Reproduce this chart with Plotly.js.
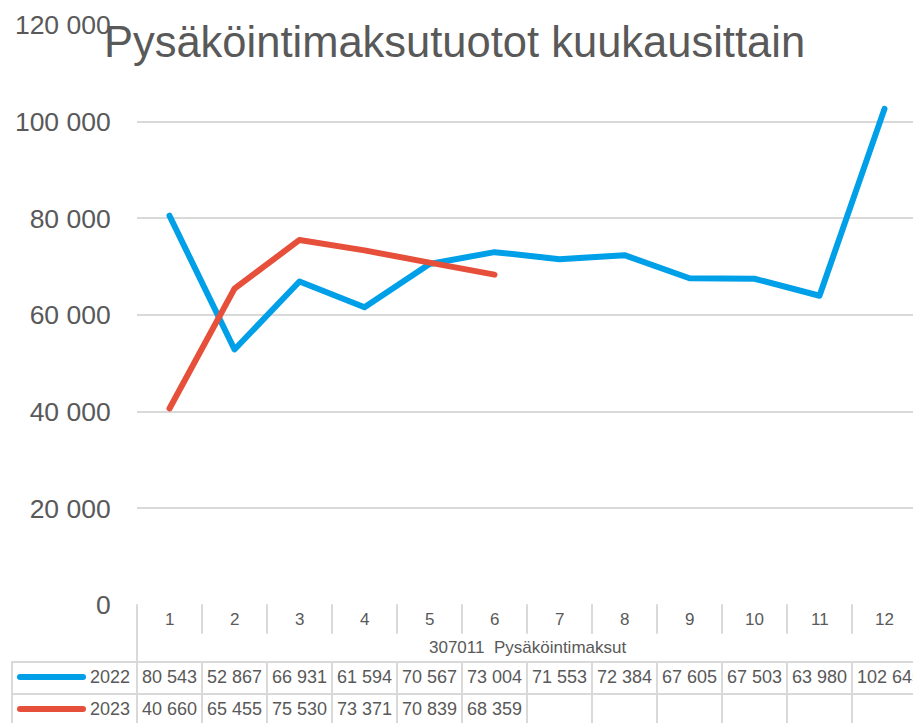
<!DOCTYPE html>
<html>
<head>
<meta charset="utf-8">
<script src="https://cdn.plot.ly/plotly-3.0.1.min.js"></script>
<style>
html,body{margin:0;padding:0;overflow:hidden;background:#fff;width:913px;height:723px;}
#chart{width:917px;height:723px;}
.scatterlayer .js-line{stroke-linecap:round;stroke-linejoin:round;}
.shapelayer path{stroke-linecap:round;}
</style>
</head>
<body>
<div id="chart"></div>
<script>
// ---- data ----
const months = [1,2,3,4,5,6,7,8,9,10,11,12];
const monthLabels = ['1','2','3','4','5','6','7','8','9','10','11','12'];
const seriesNames = ['2022','2023'];
const values2022 = [80543,52867,66931,61594,70567,73004,71553,72384,67605,67503,63980,102645];
const values2023 = [40660,65455,75530,73371,70839,68359];
const yTicks = [0,20000,40000,60000,80000,100000,120000];
const categoryTitle = '307011  Pysäköintimaksut';
const chartTitle = 'Pysäköintimaksutuotot kuukausittain';

// ---- styles ----
const colors = ['#00A0E9','#E6503A'];
const grey = '#595959';
const gridColor = '#D9D9D9';
const font = '"Liberation Sans", Arial, sans-serif';

function fmt(n){ return n.toString().replace(/\B(?=(\d{3})+(?!\d))/g,' '); }

// plot area pixel geometry (for converting table rows to paper coords)
const plotLeft = 137, plotW = 780, plotTop = 25, plotBottom = 605, plotH = plotBottom - plotTop;
const py = y => (plotBottom - y) / plotH;
const px = x => (x - plotLeft) / plotW;

const seriesValues = [values2022, values2023];

const traces = seriesValues.map((vals, i) => ({
  type: 'scatter', mode: 'lines',
  x: months.slice(0, vals.length), y: vals,
  name: seriesNames[i],
  line: {color: colors[i], width: 6},
  hoverinfo: 'skip'
}));

const shapes = [];
const annotations = [];
const lineStyle = {color: gridColor, width: 2};

// horizontal table lines
[662, 694].forEach(y => shapes.push({type:'line', xref:'paper', yref:'paper', x0:px(12), x1:px(925), y0:py(y), y1:py(y), line:lineStyle}));
// left borders
shapes.push({type:'line', xref:'paper', yref:'paper', x0:px(12), x1:px(12), y0:py(662), y1:py(730), line:lineStyle});
shapes.push({type:'line', xref:'paper', yref:'paper', x0:px(137), x1:px(137), y0:py(605), y1:py(730), line:lineStyle});
// column separators
for (let k = 1; k < months.length; k++) {
  const xb = months[k] - 0.5;
  shapes.push({type:'line', xref:'x', yref:'paper', x0:xb, x1:xb, y0:py(605), y1:py(633), line:lineStyle});
  shapes.push({type:'line', xref:'x', yref:'paper', x0:xb, x1:xb, y0:py(662), y1:py(730), line:lineStyle});
}

// category labels
months.forEach((m, i) => annotations.push({xref:'x', yref:'paper', x:m, y:py(619), text:monthLabels[i], showarrow:false, xanchor:'center', yanchor:'middle', font:{size:17, color:grey, family:font}}));
annotations.push({xref:'paper', yref:'paper', x:0.5, y:py(647), text:categoryTitle.replace(/ /g,'&nbsp;'), showarrow:false, xanchor:'center', yanchor:'middle', font:{size:17, color:grey, family:font}});

// data table rows
const rowY = [677, 709];
seriesValues.forEach((vals, s) => {
  shapes.push({type:'line', xref:'paper', yref:'paper', x0:px(20), x1:px(83), y0:py(rowY[s]), y1:py(rowY[s]), line:{color:colors[s], width:6}});
  annotations.push({xref:'paper', yref:'paper', x:px(132), y:py(rowY[s]), text:seriesNames[s], showarrow:false, xanchor:'right', yanchor:'middle', font:{size:18, color:grey, family:font}});
  vals.forEach((v, i) => annotations.push({xref:'x', yref:'paper', x:months[i]-0.5, xshift:3, y:py(rowY[s]), text:fmt(v).replace(/ /g,'&nbsp;'), showarrow:false, xanchor:'left', yanchor:'middle', font:{size:18, color:grey, family:font}}));
});

const layout = {
  width: 917, height: 723,
  margin: {l: plotLeft, r: 917 - plotLeft - plotW, t: plotTop, b: 723 - plotBottom, pad: 0},
  paper_bgcolor: '#fff', plot_bgcolor: '#fff',
  showlegend: false,
  font: {family: font, color: grey},
  title: {text: chartTitle, font: {size: 43.5, color: grey, family: font}, x: 454.5/917, xanchor: 'center', y: 1 - 42/723, yanchor: 'middle', yref: 'container', xref: 'container'},
  xaxis: {range: [0.5, 12.5], showticklabels: false, showgrid: false, zeroline: false, showline: false, ticks: '', fixedrange: true},
  yaxis: {range: [0, 120000], tickvals: yTicks, ticktext: yTicks.map(fmt), showgrid: true, gridcolor: gridColor, gridwidth: 2, zeroline: false, showline: false,
          ticks: 'outside', ticklen: 20, tickcolor: 'rgba(0,0,0,0)', tickfont: {size: 26.5, color: grey, family: font}, fixedrange: true},
  shapes: shapes,
  annotations: annotations
};

Plotly.newPlot('chart', traces, layout, {staticPlot: true, displayModeBar: false});
</script>
</body>
</html>
